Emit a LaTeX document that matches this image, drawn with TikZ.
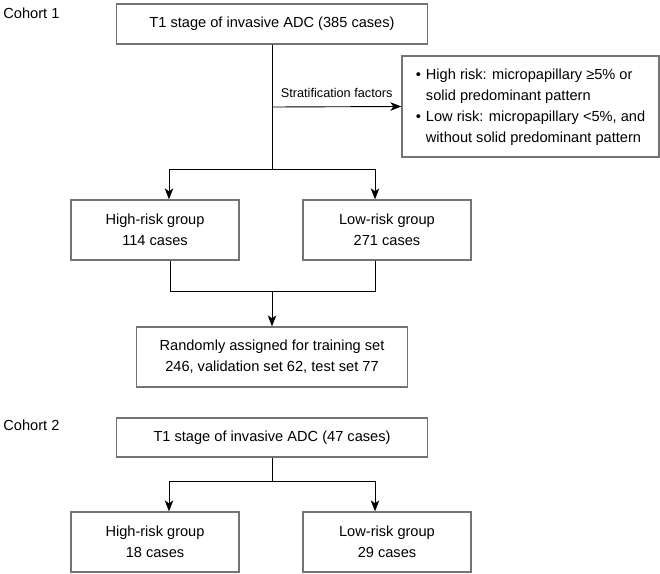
\documentclass[tikz,border=0pt]{standalone}
\usepackage{fontspec}
\setmainfont{Liberation Sans}
\usepackage{tikz}
\usetikzlibrary{arrows.meta}

\tikzset{
  box/.style={draw=black!55, line width=1.3pt, minimum width=168pt, minimum height=60pt,
    align=center, inner sep=0pt, font=\fontsize{14.6}{21}\selectfont},
  lbl/.style={anchor=west, inner sep=0pt, font=\fontsize{14.6}{21}\selectfont},
  arr/.style={-{Stealth[length=11pt,width=8.5pt,inset=3pt]}},
}

\begin{document}
\begin{tikzpicture}[x=1pt,y=-1pt,line width=0.9pt]
  \useasboundingbox (0,0) rectangle (660,573);
  % cohort 1
  \node[lbl] (coh1) at (3,13) {Cohort 1};
  \node[box, minimum width=311pt, minimum height=40pt] (top1) at (272,24) {T1 stage of invasive ADC (385 cases)};
  \node[box, minimum width=257pt, minimum height=101pt, align=left] (risk) at (530.5,106.5)
    {\begin{tabular}{@{}l@{\hspace{5pt}}l@{}}
      \textbullet & High risk: micropapillary ≥5\% or\\
                  & solid predominant pattern\\
      \textbullet & Low risk: micropapillary <5\%, and\\
                  & without solid predominant pattern
    \end{tabular}};
  \node[box] (hi1) at (155,230) {High-risk group\\114 cases};
  \node[box] (low1) at (387,230) {Low-risk group\\271 cases};
  \node[box, minimum width=271pt] (rand) at (272,357) {Randomly assigned for training set\\246, validation set 62, test set 77};
  \coordinate (branch) at (272,107);
  \coordinate (split1) at (272,169);
  \coordinate (merge) at (272,291);
  \draw (top1) -- (split1);
  \draw[arr] (branch) -- (risk.west) node[midway, above=9pt, inner sep=0pt, font=\fontsize{12.7}{15}\selectfont] (strat) {Stratification factors};
  \draw[arr] (split1) -| ([xshift=14pt]hi1.north);
  \draw[arr] (split1) -| ([xshift=-12pt]low1.north);
  \draw ([xshift=15pt]hi1.south) |- (merge);
  \draw ([xshift=-12pt]low1.south) |- (merge);
  \draw[arr] (merge) -- (rand.north);
  % cohort 2
  \node[lbl] (coh2) at (3,425) {Cohort 2};
  \node[box, minimum width=311pt, minimum height=39pt] (top2) at (272,437.5) {T1 stage of invasive ADC (47 cases)};
  \node[box] (hi2) at (155,542) {High-risk group\\18 cases};
  \node[box] (low2) at (387,542) {Low-risk group\\29 cases};
  \coordinate (split2) at (272,481);
  \draw (top2) -- (split2);
  \draw[arr] (split2) -| ([xshift=14pt]hi2.north);
  \draw[arr] (split2) -| ([xshift=-12pt]low2.north);
\end{tikzpicture}
\end{document}
